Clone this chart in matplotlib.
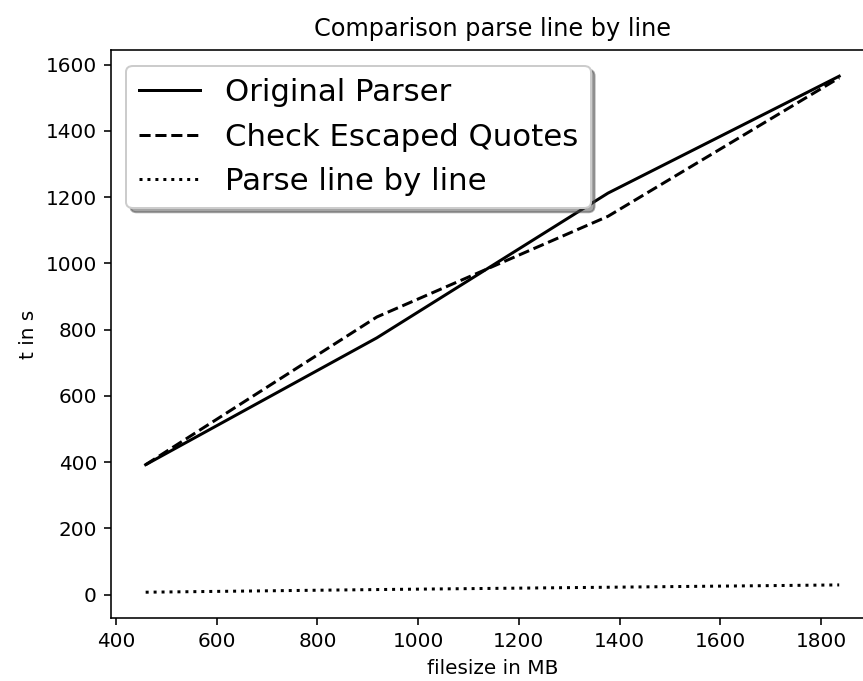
import matplotlib
matplotlib.use('Agg')
import matplotlib.pyplot as plt

# file sizes in MB
filesize = [459, 918, 1377, 1836]

# runtime in seconds
original_parser = [392, 775, 1212, 1565]
check_escaped = [392, 838, 1142, 1560]
line_by_line = [7, 15, 22, 29]

labels = ['Original Parser', 'Check Escaped Quotes', 'Parse line by line']


def main():
    fig = plt.figure(figsize=(863 / 144, 681 / 144), dpi=144)
    # right spine falls just outside the picture, like the reference crop
    ax = fig.add_axes([0.1286, 0.0925, 0.884, 0.8335])

    ax.plot(filesize, original_parser, color='black', linestyle='-', label=labels[0])
    ax.plot(filesize, check_escaped, color='black', linestyle='--', label=labels[1])
    ax.plot(filesize, line_by_line, color='black', linestyle=':', label=labels[2])

    ax.set_title('Comparison parse line by line', pad=7)
    ax.set_xlabel('filesize in MB')
    ax.set_ylabel('t in s')
    ax.legend(loc='upper left', shadow=True, fontsize=15.4)

    fig.savefig('out.png', dpi=144)


if __name__ == '__main__':
    main()
